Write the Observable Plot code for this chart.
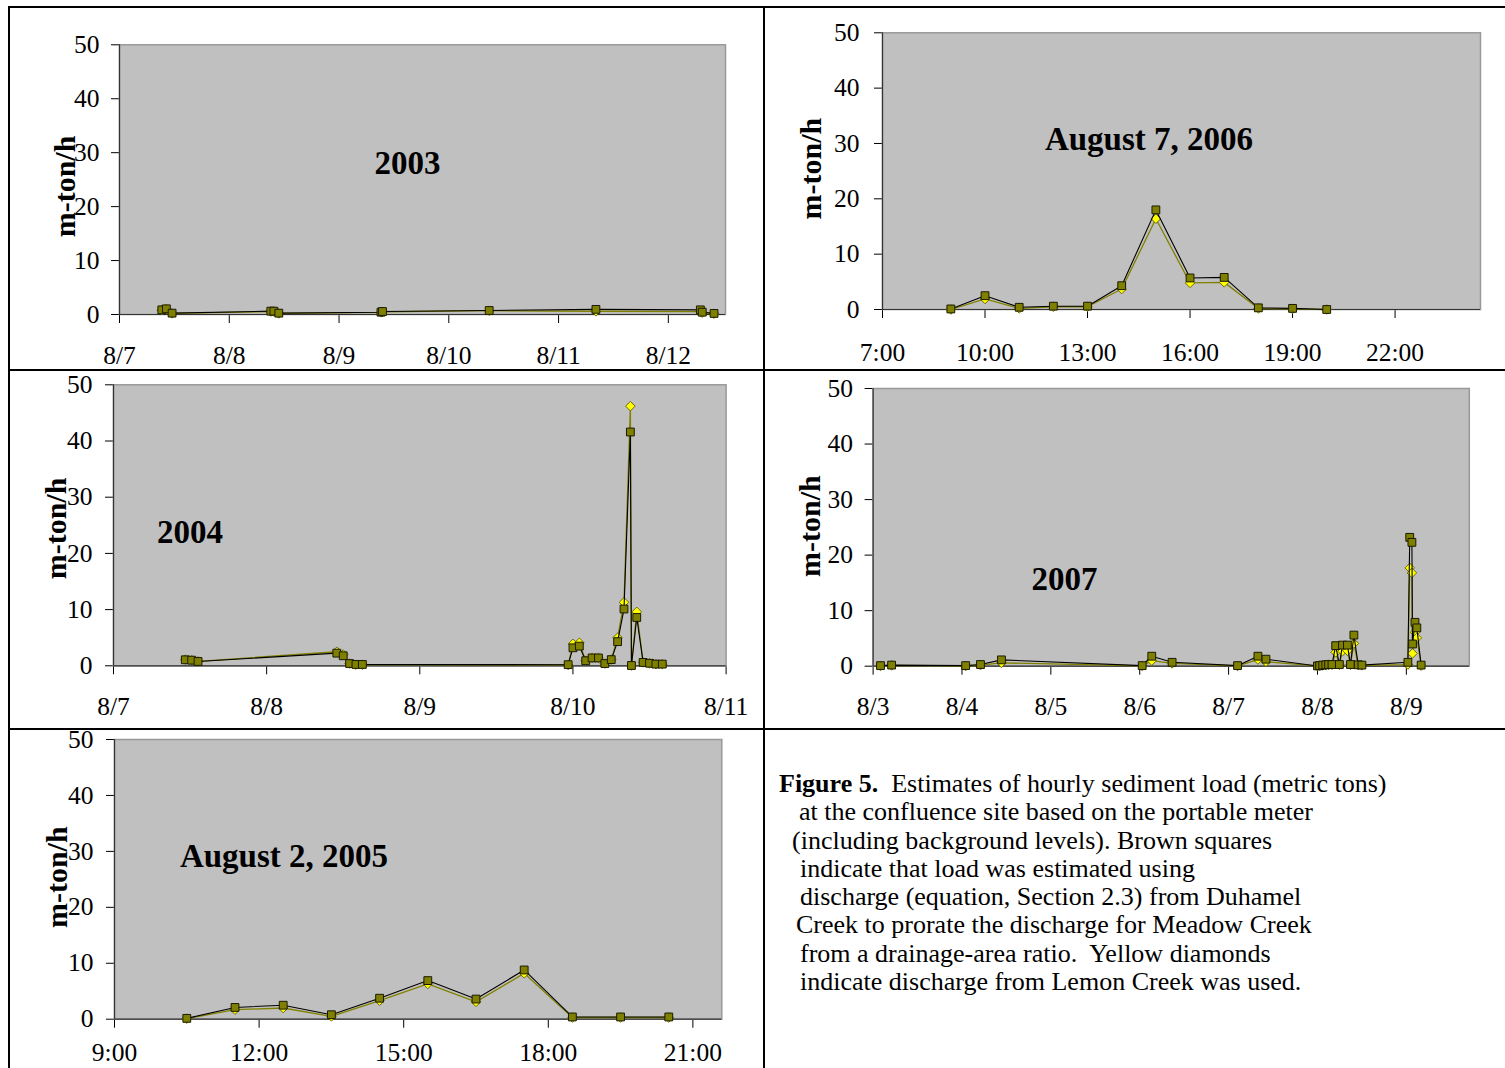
<!DOCTYPE html>
<html>
<head>
<meta charset="utf-8">
<script src="https://cdn.jsdelivr.net/npm/d3@7"></script>
<script src="https://cdn.jsdelivr.net/npm/@observablehq/plot@0.6"></script>
<style>
  html, body { margin: 0; padding: 0; background: #fff; }
  #page { position: relative; width: 1505px; height: 1068px; overflow: hidden; background: #fff;
          font-family: "Liberation Serif", "Times New Roman", serif; }
  .rule { position: absolute; background: #000; }
  .panel { position: absolute; }
  #caption { position: absolute; left: 779px; top: 770px; font-size: 26px; line-height: 28.3px; color: #000; white-space: pre; }
  #caption b { font-weight: bold; }
</style>
</head>
<body>
<div id="page"></div>
<script>
// ---------------- DATA ----------------
const yTicks = [0, 10, 20, 30, 40, 50];

// 2003 (dates, load m-ton/h)
const t2003 = ["2003-08-07T09:15","2003-08-07T10:15","2003-08-07T11:30",
               "2003-08-08T09:05","2003-08-08T09:45","2003-08-08T10:50",
               "2003-08-09T09:10","2003-08-09T09:30",
               "2003-08-10T08:50",
               "2003-08-11T08:10",
               "2003-08-12T07:00","2003-08-12T07:25","2003-08-12T10:00"];
const sq2003 = [0.86, 1.05, 0.25, 0.62, 0.62, 0.25, 0.43, 0.55, 0.74, 0.95, 0.86, 0.43, 0.2];
const dm2003 = [0.8, 1.0, 0.2, 0.55, 0.55, 0.2, 0.4, 0.5, 0.7, 0.6, 0.55, 0.35, 0.15];
const ticks2003 = ["2003-08-07","2003-08-08","2003-08-09","2003-08-10","2003-08-11","2003-08-12"];

// August 7, 2006
const t2006 = ["2006-08-07T09:00","2006-08-07T10:00","2006-08-07T11:00","2006-08-07T12:00",
               "2006-08-07T13:00","2006-08-07T14:00","2006-08-07T15:00","2006-08-07T16:00",
               "2006-08-07T17:00","2006-08-07T18:00","2006-08-07T19:00","2006-08-07T20:00"];
const sq2006 = [0.1, 2.5, 0.4, 0.6, 0.6, 4.3, 18.0, 5.7, 5.8, 0.3, 0.2, 0.0];
const dm2006 = [0.0, 1.9, 0.2, 0.5, 0.5, 3.7, 16.4, 4.8, 4.9, 0.2, 0.1, 0.0];
const ticks2006 = ["2006-08-07T07:00","2006-08-07T10:00","2006-08-07T13:00","2006-08-07T16:00","2006-08-07T19:00","2006-08-07T22:00"];

// 2004
const t2004 = ["2004-08-07T11:15","2004-08-07T12:15","2004-08-07T13:15",
               "2004-08-08T11:00","2004-08-08T12:00","2004-08-08T13:00","2004-08-08T14:00","2004-08-08T15:00",
               "2004-08-09T23:15",
               "2004-08-10T00:00","2004-08-10T01:00","2004-08-10T02:00","2004-08-10T03:00","2004-08-10T04:00",
               "2004-08-10T05:00","2004-08-10T06:00","2004-08-10T07:00","2004-08-10T08:00","2004-08-10T09:00",
               "2004-08-10T09:10","2004-08-10T10:00","2004-08-10T11:00","2004-08-10T12:00","2004-08-10T13:00",
               "2004-08-10T14:00"];
const sq2004 = [1.07, 1.0, 0.77, 2.25, 1.78, 0.4, 0.24, 0.24, 0.2, 3.2, 3.5, 0.9, 1.4, 1.4, 0.4, 1.1, 4.3, 10.1, 41.6, 0.05, 8.6, 0.6, 0.45, 0.3, 0.3];
const dm2004 = [1.1, 1.0, 0.8, 2.5, 2.0, 0.4, 0.2, 0.2, 0.15, 3.9, 4.1, 0.9, 1.4, 1.4, 0.4, 1.1, 5.0, 11.3, 46.2, 0.05, 9.6, 0.6, 0.45, 0.3, 0.3];
const ticks2004 = ["2004-08-07","2004-08-08","2004-08-09","2004-08-10","2004-08-11"];

// 2007
const t2007 = ["2007-08-03T02:00","2007-08-03T05:00",
               "2007-08-04T01:00","2007-08-04T05:00","2007-08-04T10:40",
               "2007-08-06T00:40","2007-08-06T03:15","2007-08-06T08:45",
               "2007-08-07T02:25","2007-08-07T07:55","2007-08-07T10:05",
               "2007-08-08T00:00","2007-08-08T00:35","2007-08-08T01:25","2007-08-08T02:15","2007-08-08T03:00",
               "2007-08-08T03:55","2007-08-08T04:55","2007-08-08T05:55","2007-08-08T06:45","2007-08-08T08:05",
               "2007-08-08T08:55","2007-08-08T09:50","2007-08-08T11:00","2007-08-08T12:00",
               "2007-08-09T00:25","2007-08-09T00:55","2007-08-09T01:30","2007-08-09T01:40",
               "2007-08-09T02:20","2007-08-09T02:50","2007-08-09T04:00"];
const sq2007 = [0.1, 0.2, 0.1, 0.3, 1.14, 0.1, 1.8, 0.7, 0.1, 1.8, 1.26,
                0.05, 0.1, 0.2, 0.25, 0.3, 0.3, 3.7, 0.3, 3.8, 3.8, 0.3, 5.6, 0.25, 0.2,
                0.7, 23.2, 22.3, 4.0, 7.9, 6.9, 0.2];
const dm2007 = [0.05, 0.15, 0.05, 0.2, 0.6, 0.05, 1.0, 0.5, 0.05, 1.2, 0.8,
                0.05, 0.1, 0.15, 0.2, 0.25, 0.25, 2.5, 0.25, 2.7, 2.8, 0.25, 4.1, 0.2, 0.15,
                0.3, 17.7, 16.8, 2.3, 6.1, 5.1, 0.1];
const ticks2007 = ["2007-08-03","2007-08-04","2007-08-05","2007-08-06","2007-08-07","2007-08-08","2007-08-09"];

// August 2, 2005
const t2005 = ["2005-08-02T10:30","2005-08-02T11:30","2005-08-02T12:30","2005-08-02T13:30",
               "2005-08-02T14:30","2005-08-02T15:30","2005-08-02T16:30","2005-08-02T17:30",
               "2005-08-02T18:30","2005-08-02T19:30","2005-08-02T20:30"];
const sq2005 = [0.15, 2.1, 2.5, 0.8, 3.75, 6.9, 3.6, 8.8, 0.4, 0.4, 0.4];
const dm2005 = [0.1, 1.7, 2.0, 0.5, 3.3, 6.3, 3.1, 8.2, 0.3, 0.3, 0.3];
const ticks2005 = ["2005-08-02T09:00","2005-08-02T12:00","2005-08-02T15:00","2005-08-02T18:00","2005-08-02T21:00"];

const yLabel = "m-ton/h";
const captionLines = [
  ["Figure 5.", "  Estimates of hourly sediment load (metric tons)"],
  ["", "at the confluence site based on the portable meter"],
  ["", "(including background levels). Brown squares"],
  ["", "indicate that load was estimated using"],
  ["", "discharge (equation, Section 2.3) from Duhamel"],
  ["", "Creek to prorate the discharge for Meadow Creek"],
  ["", "from a drainage-area ratio.  Yellow diamonds"],
  ["", "indicate discharge from Lemon Creek was used."]
];

// ---------------- LAYOUT ----------------
const parse = s => new Date(s.length === 10 ? s + "T00:00Z" : s + "Z");
const fmtDay = d3.utcFormat("%-m/%-d");
const fmtHour = d3.utcFormat("%-H:%M");

const panels = [
  { title: "2003", times: t2003, sq: sq2003, dm: dm2003, ticks: ticks2003, fmt: fmtDay,
    domain: ["2003-08-07", "2003-08-12T12:30"],
    left: 8, top: 8, w: 754, h: 360, mL: 111, mR: 37, mT: 36.3, mB: 54,
    tdx: 288, tdy: 118.2, ldx: -54.3, ldy: 6.8, yPad: 12, xPad: 22 },
  { title: "August 7, 2006", times: t2006, sq: sq2006, dm: dm2006, ticks: ticks2006, fmt: fmtHour,
    domain: ["2006-08-07T07:00", "2006-08-08T00:30"],
    left: 765, top: 8, w: 740, h: 360, mL: 117, mR: 25, mT: 24.3, mB: 59,
    tdx: 266.5, tdy: 106.9, ldx: -71.4, ldy: -2.6, yPad: 15, xPad: 24 },
  { title: "2004", times: t2004, sq: sq2004, dm: dm2004, ticks: ticks2004, fmt: fmtDay,
    domain: ["2004-08-07", "2004-08-11"],
    left: 8, top: 371, w: 754, h: 357, mL: 105, mR: 36.4, mT: 13.3, mB: 62.7,
    tdx: 76.5, tdy: 147.4, ldx: -57, ldy: 3.2, yPad: 13, xPad: 22 },
  { title: "2007", times: t2007, sq: sq2007, dm: dm2007, ticks: ticks2007, fmt: fmtDay,
    domain: ["2007-08-03", "2007-08-09T17:00"],
    left: 765, top: 371, w: 740, h: 357, mL: 107.6, mR: 36.2, mT: 17, mB: 62.3,
    tdx: 191.4, tdy: 190.5, ldx: -63, ldy: -1.3, yPad: 12, xPad: 22 },
  { title: "August 2, 2005", times: t2005, sq: sq2005, dm: dm2005, ticks: ticks2005, fmt: fmtHour,
    domain: ["2005-08-02T09:00", "2005-08-02T21:36"],
    left: 8, top: 730, w: 754, h: 338, mL: 106, mR: 40.7, mT: 9, mB: 49.3,
    tdx: 169.5, tdy: 117, ldx: -57.5, ldy: -2.1, yPad: 13, xPad: 15 }
];

const page = document.getElementById("page");

function rule(l, t, w, h) {
  const d = document.createElement("div");
  d.className = "rule";
  Object.assign(d.style, { left: l + "px", top: t + "px", width: w + "px", height: h + "px" });
  page.appendChild(d);
}

for (const p of panels) {
  const rows = p.times.map((t, i) => ({ t: parse(t), s: p.sq[i], d: p.dm[i] }));
  const x0 = parse(p.domain[0]);
  const chart = Plot.plot({
    width: p.w, height: p.h,
    marginLeft: p.mL, marginRight: p.mR, marginTop: p.mT, marginBottom: p.mB,
    style: { fontFamily: "'Liberation Serif', 'Times New Roman', serif", fontSize: "25.5px",
             background: "transparent", color: "#000", overflow: "visible" },
    x: { type: "utc", domain: p.domain.map(parse), ticks: p.ticks.map(parse), tickFormat: p.fmt,
         tickSize: 9, tickPadding: p.xPad, label: null },
    y: { domain: [0, 50], ticks: yTicks, tickSize: 8, tickPadding: p.yPad, label: null },
    marks: [
      Plot.frame({ fill: "#c0c0c0", stroke: "#999999", strokeWidth: 1.5 }),
      Plot.ruleX([x0], { stroke: "#333", strokeWidth: 1.2 }),
      Plot.ruleY([0], { stroke: "#333", strokeWidth: 1.2 }),
      Plot.line(rows, { x: "t", y: "d", stroke: "#808000", strokeWidth: 1.3 }),
      Plot.dot(rows, { x: "t", y: "d", symbol: "diamond2", r: 4.3, fill: "#ffff00", stroke: "#5c5c00", strokeWidth: 0.9 }),
      Plot.line(rows, { x: "t", y: "s", stroke: "#000", strokeWidth: 1.1 }),
      Plot.dot(rows, { x: "t", y: "s", symbol: "square", r: 4.4, fill: "#808000", stroke: "#1a1a00", strokeWidth: 1 }),
      Plot.text([p.title], { text: d => d, frameAnchor: "top-left", dx: p.tdx, dy: p.tdy,
                             textAnchor: "middle", lineAnchor: "middle", fontSize: 33, fontWeight: "bold", fill: "#000" }),
      Plot.text([yLabel], { text: d => d, frameAnchor: "left", rotate: -90, dx: p.ldx, dy: p.ldy,
                            textAnchor: "middle", lineAnchor: "middle", fontSize: 30, fontWeight: "bold", fill: "#000" })
    ]
  });
  const wrap = document.createElement("div");
  wrap.className = "panel";
  Object.assign(wrap.style, { left: p.left + "px", top: p.top + "px", width: p.w + "px", height: p.h + "px" });
  wrap.appendChild(chart);
  page.appendChild(wrap);
}

// Table borders
rule(8, 6, 1497, 2);     // top
rule(8, 6, 2, 1062);     // left
rule(763, 6, 2, 1062);   // vertical divider
rule(8, 369, 1497, 2);   // row 1 / row 2
rule(8, 728, 1497, 2);   // row 2 / row 3

// Caption
const cap = document.createElement("div");
cap.id = "caption";
const indents = [0, 20, 13, 21, 21, 17, 21, 21];
captionLines.forEach(([bold, rest], i) => {
  const line = document.createElement("div");
  line.style.paddingLeft = indents[i] + "px";
  if (bold) { const b = document.createElement("b"); b.textContent = bold; line.appendChild(b); }
  line.appendChild(document.createTextNode(rest));
  cap.appendChild(line);
});
page.appendChild(cap);
</script>
</body>
</html>
